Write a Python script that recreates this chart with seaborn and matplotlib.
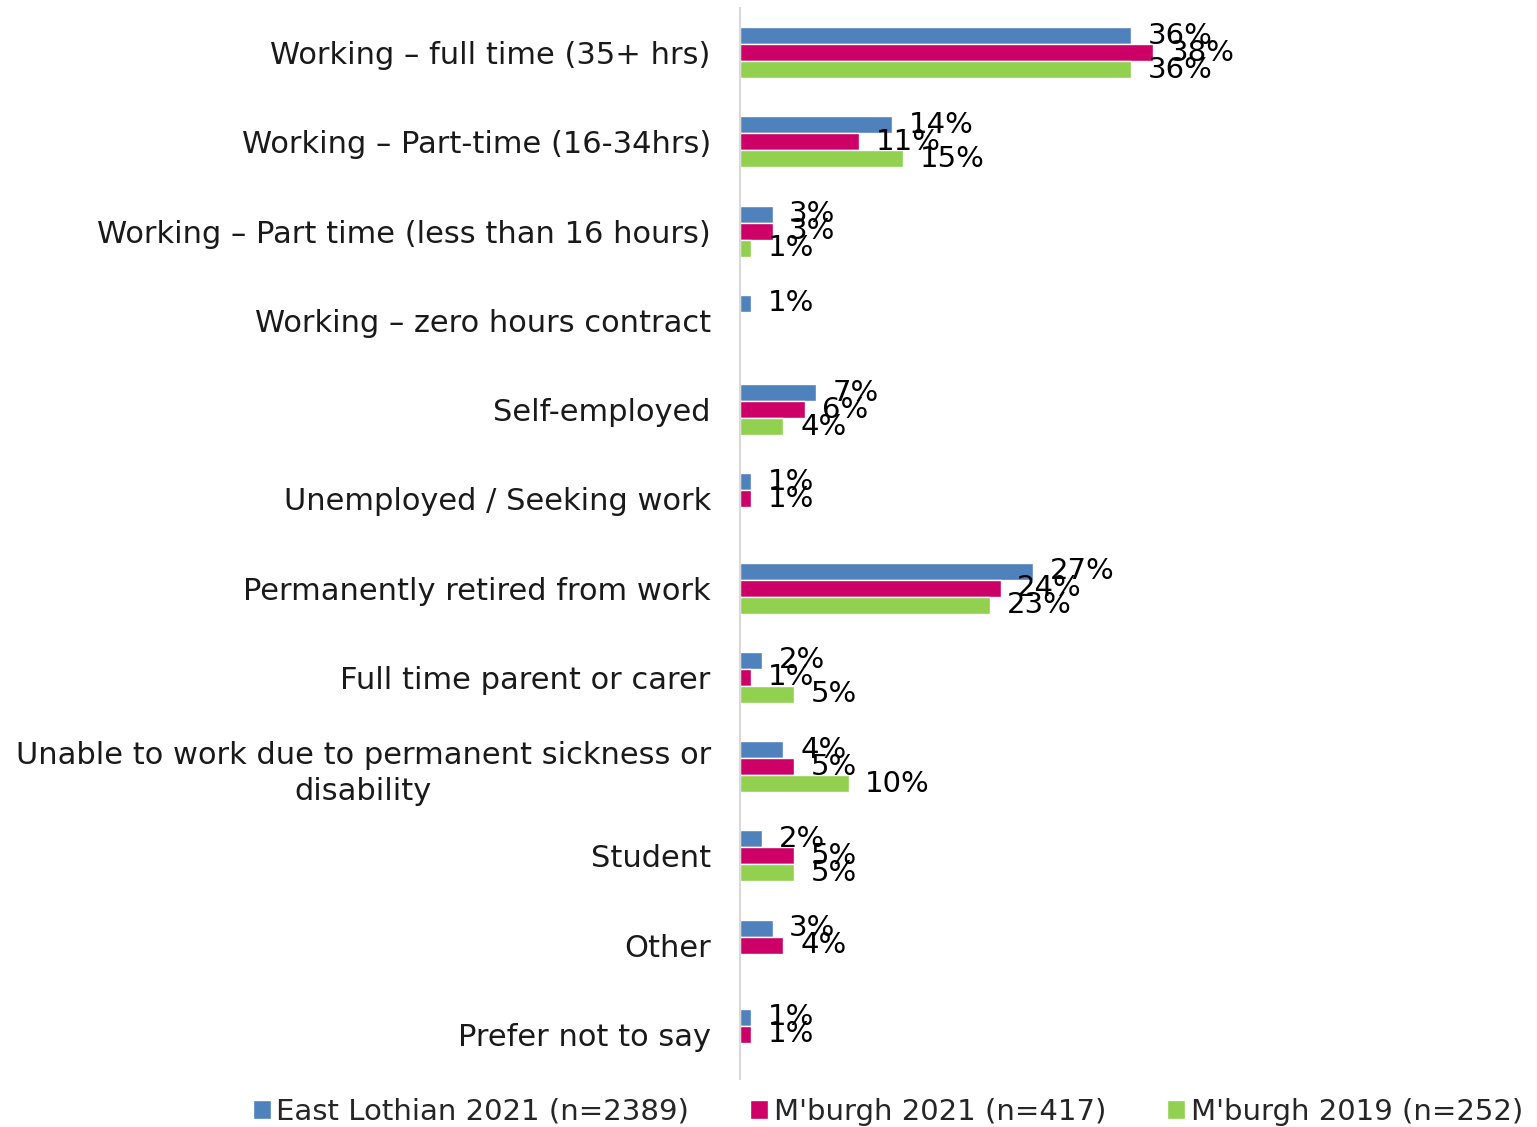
import numpy as np
import pandas as pd
import matplotlib
matplotlib.use("Agg")
import matplotlib.pyplot as plt
import seaborn as sns

categories = [
    "Working \u2013 full time (35+ hrs)",
    "Working \u2013 Part-time (16-34hrs)",
    "Working \u2013 Part time (less than 16 hours)",
    "Working \u2013 zero hours contract",
    "Self-employed",
    "Unemployed / Seeking work",
    "Permanently retired from work",
    "Full time parent or carer",
    "Unable to work due to permanent sickness or\ndisability",
    "Student",
    "Other",
    "Prefer not to say",
]
series = ["East Lothian 2021 (n=2389)", "M'burgh 2021 (n=417)", "M'burgh 2019 (n=252)"]
east_lothian_2021 = [36, 14, 3, 1, 7, 1, 27, 2, 4, 2, 3, 1]
mburgh_2021 = [38, 11, 3, np.nan, 6, 1, 24, 1, 5, 5, 4, 1]
mburgh_2019 = [36, 15, 1, np.nan, 4, np.nan, 23, 5, 10, 5, np.nan, np.nan]
colors = ["#4F81BD", "#CC0066", "#92D050"]

rows = []
for name, vals in zip(series, [east_lothian_2021, mburgh_2021, mburgh_2019]):
    for cat, v in zip(categories, vals):
        if not np.isnan(v):
            rows.append({"category": cat, "series": name, "value": v})
df = pd.DataFrame(rows)

sns.set_style("white")
plt.rcParams["font.family"] = ["DejaVu Sans"]

fig = plt.figure(figsize=(15.37, 11.27), dpi=100)
ax = fig.add_axes([740 / 1537, 1 - 1079 / 1127, (1532 - 740) / 1537, (1079 - 8) / 1127])

sns.barplot(data=df, y="category", x="value", hue="series", order=categories,
            hue_order=series, palette=colors, orient="h", width=0.57,
            errorbar=None, saturation=1, ax=ax, legend=True)

px_per_unit = 10.86
ax.set_xlim(0, (1532 - 740) / px_per_unit)
ax.set_ylim(len(categories) - 0.5, -0.5)

for cont in ax.containers:
    ax.bar_label(cont, labels=[f"{v:.0f}%" for v in cont.datavalues],
                 padding=12, fontsize=21, color="black")

ax.set_xlabel("")
ax.set_ylabel("")
ax.set_xticks([])
ax.tick_params(axis="y", length=0, pad=21, labelsize=22, labelcolor="#1a1a1a")
for lbl in ax.get_yticklabels():
    lbl.set_multialignment("center")
    lbl.set_linespacing(1.3)

for side in ["top", "right", "bottom"]:
    ax.spines[side].set_visible(False)
ax.spines["left"].set_color("#D9D9D9")
ax.spines["left"].set_linewidth(1.5)

handles, labels = ax.get_legend_handles_labels()
ax.get_legend().remove()
fig.legend(handles, labels, loc="lower center", bbox_to_anchor=(888 / 1537, -0.022),
           ncol=3, frameon=False, fontsize=21, handlelength=0.6, handleheight=0.6,
           handletextpad=0.2, columnspacing=2.1)

fig.savefig("out.png", dpi=100)
